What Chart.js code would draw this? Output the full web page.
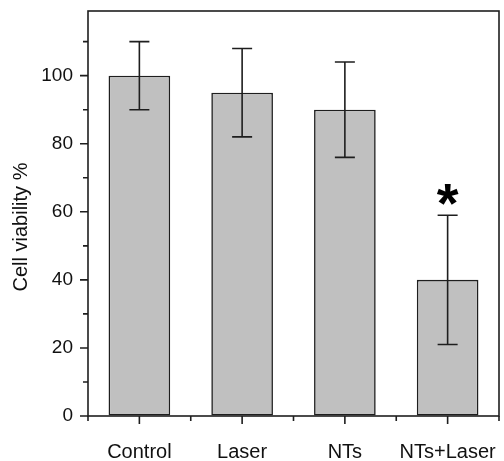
<!DOCTYPE html>
<html>
<head>
<meta charset="utf-8">
<script src="https://cdn.jsdelivr.net/npm/chart.js@4"></script>
<style>
  html, body { margin: 0; padding: 0; background: #ffffff; }
  #wrap { width: 504px; height: 461px; }
</style>
</head>
<body>
<div id="wrap"><canvas id="c" width="504" height="461"></canvas></div>
<script>
const categories = ['Control', 'Laser', 'NTs', 'NTs+Laser'];
const viability = [100, 95, 90, 40];
const errors = [10, 13, 14, 19];
const significant = [false, false, false, true];
const yMajorTicks = [0, 20, 40, 60, 80, 100];
const yMinorTicks = [10, 30, 50, 70, 90, 110];
const yTitle = 'Cell viability %';

const INK = '#1e1e1e';
const FONT = '"Liberation Sans", Arial, sans-serif';

const framePlugin = {
  id: 'frame',
  afterDatasetsDraw(chart) {
    const ctx = chart.ctx;
    const a = chart.chartArea;
    const xs = chart.scales.x;
    const ys = chart.scales.y;
    const meta = chart.getDatasetMeta(0);
    ctx.save();
    // error bars
    ctx.strokeStyle = INK;
    ctx.lineWidth = 1.6;
    meta.data.forEach((bar, i) => {
      const x = bar.x;
      const yt = ys.getPixelForValue(viability[i] + errors[i]);
      const yb = ys.getPixelForValue(viability[i] - errors[i]);
      ctx.beginPath();
      ctx.moveTo(x, yt); ctx.lineTo(x, yb);
      ctx.moveTo(x - 10, yt); ctx.lineTo(x + 10, yt);
      ctx.moveTo(x - 10, yb); ctx.lineTo(x + 10, yb);
      ctx.stroke();
      if (significant[i]) {
        ctx.fillStyle = '#000';
        ctx.font = 'bold 56px ' + FONT;
        ctx.textAlign = 'center';
        ctx.textBaseline = 'middle';
        ctx.fillText('*', x, yt - 9);
      }
    });
    // frame
    ctx.lineWidth = 1.6;
    ctx.strokeStyle = INK;
    ctx.strokeRect(a.left, a.top, a.right - a.left, a.bottom - a.top);
    // y ticks
    ctx.beginPath();
    yMajorTicks.forEach(v => {
      const y = ys.getPixelForValue(v);
      ctx.moveTo(a.left - 8, y); ctx.lineTo(a.left, y);
    });
    yMinorTicks.forEach(v => {
      const y = ys.getPixelForValue(v);
      ctx.moveTo(a.left - 5, y); ctx.lineTo(a.left, y);
    });
    // x ticks
    categories.forEach((c, i) => {
      const x = xs.getPixelForValue(i);
      ctx.moveTo(x, a.bottom); ctx.lineTo(x, a.bottom + 8);
    });
    for (let i = 0; i <= categories.length; i++) {
      const x = xs.getPixelForValue(i - 0.5);
      ctx.moveTo(x, a.bottom); ctx.lineTo(x, a.bottom + 5);
    }
    ctx.stroke();
    // y title
    ctx.fillStyle = '#111';
    ctx.font = '20px ' + FONT;
    ctx.textAlign = 'center';
    ctx.textBaseline = 'middle';
    ctx.translate(21, 227);
    ctx.rotate(-Math.PI / 2);
    ctx.fillText(yTitle, 0, 0);
    ctx.restore();
  }
};

new Chart(document.getElementById('c'), {
  type: 'bar',
  data: {
    labels: categories,
    datasets: [{
      data: viability,
      backgroundColor: '#c0c0c0',
      borderColor: INK,
      borderWidth: 1.6,
      borderSkipped: false,
      categoryPercentage: 1.0,
      barPercentage: 0.6
    }]
  },
  options: {
    responsive: false,
    animation: false,
    events: [],
    layout: { padding: { top: 11, right: 5, left: 0, bottom: 0 } },
    plugins: { legend: { display: false }, tooltip: { enabled: false } },
    scales: {
      x: {
        offset: true,
        grid: { display: true, drawOnChartArea: false, color: 'transparent', tickLength: 8 },
        border: { display: false },
        ticks: {
          color: '#111',
          font: { family: FONT, size: 20 },
          padding: 16,
          autoSkip: false,
          maxRotation: 0
        },
        afterFit(s) { s.height = 45; s.paddingLeft = 0; s.paddingRight = 0; }
      },
      y: {
        min: 0,
        max: 119,
        grid: { display: true, drawOnChartArea: false, color: 'transparent', tickLength: 8 },
        border: { display: false },
        ticks: {
          stepSize: 20,
          includeBounds: false,
          color: '#111',
          font: { family: FONT, size: 19 },
          padding: 7
        },
        afterFit(s) { s.width = 88; s.paddingTop = 0; s.paddingBottom = 0; }
      }
    }
  },
  plugins: [framePlugin]
});
</script>
</body>
</html>
